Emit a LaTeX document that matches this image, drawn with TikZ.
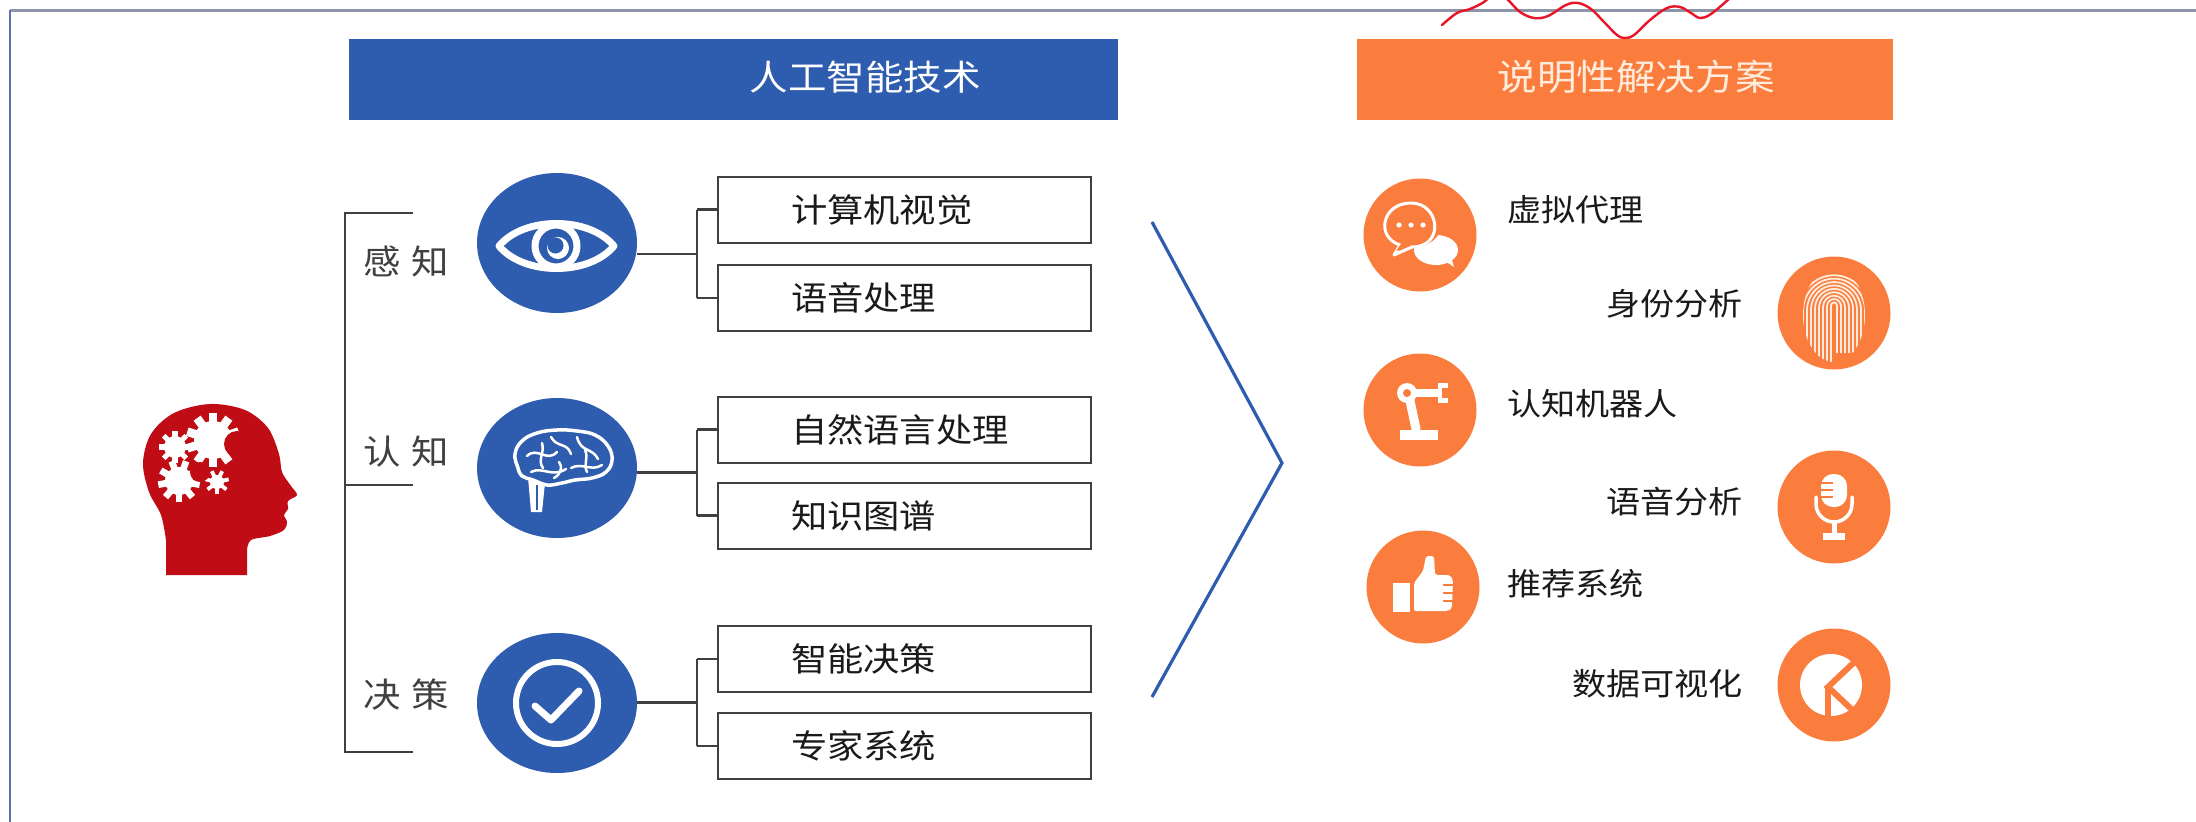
\documentclass[tikz,border=0pt]{standalone}
\usepackage{fontspec}
\newfontfamily\cjk[FakeStretch=1.1]{Noto Sans CJK SC}
\usetikzlibrary{shapes.geometric,calc}
\definecolor{aiblue}{RGB}{46,92,174}
\definecolor{solorange}{RGB}{250,125,62}
\definecolor{headred}{RGB}{192,12,20}
\definecolor{framegrey}{RGB}{140,150,168}
\definecolor{frameblue}{RGB}{90,115,175}
\definecolor{linegrey}{RGB}{64,64,64}
\definecolor{txtdark}{RGB}{26,26,26}
\definecolor{markred}{RGB}{232,20,40}
\definecolor{cream}{RGB}{255,236,220}
\tikzset{
  pics/cog/.style args={#1/#2/#3}{code={
    \fill[white] (0,0) circle[radius=#2];
    \foreach \k in {1,...,#1}{
      \fill[white, rotate=\k*360/#1] (-0.16*#3,0) rectangle (0.16*#3,#3);
    }
  }}
}
\begin{document}
\begin{tikzpicture}[x=1pt,y=-1pt,
  hdrbar/.style={minimum height=81, inner sep=0},
  hdrtext/.style={text=white, font=\cjk\fontsize{35}{42}\selectfont, inner sep=0},
  catlabel/.style={text=linegrey, font=\cjk\fontsize{34}{40}\selectfont, inner sep=0},
  bluedisc/.style={ellipse, fill=aiblue, minimum width=160, minimum height=140, inner sep=0},
  orangedisc/.style={circle, fill=solorange, minimum size=113, inner sep=0},
  tbox/.style={draw=linegrey, line width=2, minimum width=373, minimum height=66,
    text width=227, align=left, inner sep=0, text=txtdark,
    font=\cjk\fontsize{33}{40}\selectfont},
  rtext/.style={text=txtdark, font=\cjk\fontsize{31}{38}\selectfont, inner sep=0},
  bracket/.style={draw=linegrey, line width=2.4},
  chev/.style={draw=aiblue, line width=3.2},
  icon/.style={white, line width=#1, line cap=round, line join=round},
  icon/.default=3
]
\useasboundingbox (0,0) rectangle (2196,822);
\fill[white] (0,0) rectangle (2196,822);

% page frame
\draw[framegrey, line width=3] (10,10) -- (2196,10);
\draw[frameblue, line width=1.4] (10,10) -- (10,822);

% section headers
\node[hdrbar, fill=aiblue, minimum width=769] (hdrL) at (733.5,79.5) {};
\node[hdrtext] (hdrLtxt) at (865,77) {人工智能技术};
\node[hdrbar, fill=solorange, minimum width=536] (hdrR) at (1625,79.5) {};
\node[hdrtext, text=cream, font=\cjk\fontsize{36}{42}\selectfont] (hdrRtxt) at (1636,77) {说明性解决方案};

% head with gears
\fill[headred] (247,575) -- (166,575) -- plot[smooth, tension=0.55] coordinates {
  (166,540) (161,515) (149,492) (143,463) (151,434) (174,413) (210,404) (245,410)
  (268,428) (279,454) (282,472) (291,486) (297,495) (288,501) (288,509) (284,515)
  (287,522) (284,530) (270,536) (251,540) (247,550)} -- cycle;
\pic at (175,447) {cog=8/11/16};
\pic at (179,481) {cog=9/14/21};
\pic at (213,440) {cog=10/19/27};
\pic at (217,482) {cog=7/7/12};
\fill[headred] (237,444) circle[radius=13];
\fill[headred] (200,472) circle[radius=10];

% left bracket with category labels
\coordinate (lbTopC) at (345,213);
\coordinate (lbMidC) at (345,485);
\coordinate (lbBotC) at (345,752);
\coordinate (lbTop) at (413,213);
\coordinate (lbMid) at (413,485);
\coordinate (lbBot) at (413,752);
\draw[bracket] (lbTop) -- (lbTopC) -- (lbBotC) -- (lbBot);
\draw[bracket] (lbMidC) -- (lbMid);
\node[catlabel] (catA) at (406,261) {感\hspace{0.3em}知};
\node[catlabel] (catB) at (406,452) {认\hspace{0.3em}知};
\node[catlabel] (catC) at (406,695) {决\hspace{0.3em}策};

% blue discs
\node[bluedisc] (eye) at (557,243) {};
\node[bluedisc] (brain) at (557,468) {};
\node[bluedisc] (check) at (557,703) {};

% eye icon
\begin{scope}[shift={(eye.center)}]
  \draw[icon=7] (-58,3) .. controls (-33,-27) and (32,-27) .. (57,3)
                        .. controls (32,33) and (-33,33) .. cycle;
  \draw[icon=7] (-1,3) circle[radius=21];
  \fill[white] (1,5) circle[radius=11];
  \fill[aiblue] (-1.5,2.5) circle[radius=8];
\end{scope}

% brain icon
\begin{scope}[shift={(brain.center)}]
  \fill[white] (-29,9) -- (-12,15) -- (-15,44) -- (-26,44) -- cycle;
  \draw[aiblue, line width=1.5] (-20,17) -- (-20,42);
  \draw[icon=3.5] plot[smooth cycle, tension=0.7] coordinates {
    (-39,0) (-42,-14) (-35,-27) (-20,-35) (0,-38) (20,-37) (38,-33) (51,-22)
    (55,-8) (49,4) (35,10) (18,12) (5,15) (-10,17) (-24,12) (-35,8)};
  \draw[icon=2.5] (-30,-12) .. controls (-20,-22) and (-10,-5) .. (0,-16);
  \draw[icon=2.5] (-6,-31) .. controls (0,-20) and (10,-26) .. (14,-14);
  \draw[icon=2.5] (20,-31) .. controls (24,-15) and (35,-21) .. (41,-9);
  \draw[icon=2.5] (-26,4) .. controls (-15,-2) and (-5,10) .. (9,1);
  \draw[icon=2.5] (14,0) .. controls (25,-6) and (34,4) .. (45,-3);
  \draw[icon=2.5] (-15,-25) .. controls (-12,-15) and (-20,-8) .. (-14,0);
  \draw[icon=2.5] (2,-6) .. controls (6,0) and (4,6) .. (-3,10);
  \draw[icon=2.5] (28,-18) .. controls (32,-10) and (26,-4) .. (30,4);
\end{scope}

% check icon
\begin{scope}[shift={(check.center)}]
  \draw[icon=6] (0,0) circle[radius=41];
  \draw[icon=7] (-22,3) -- (-6,17) -- (22,-12);
\end{scope}

% technology boxes
\node[tbox] (b1) at (904.5,209.5) {计算机视觉};
\node[tbox] (b2) at (904.5,298) {语音处理};
\node[tbox] (b3) at (904.5,429.5) {自然语言处理};
\node[tbox] (b4) at (904.5,515.5) {知识图谱};
\node[tbox] (b5) at (904.5,659) {智能决策};
\node[tbox] (b6) at (904.5,746) {专家系统};

% branch connectors from discs to boxes
\foreach \disc/\up/\down in {eye/b1/b2, brain/b3/b4, check/b5/b6}{
  \coordinate (j-\disc) at ($(\up.west)!0.5!(\down.west)+(-20,0)$);
  \draw[bracket] (j-\disc -| \disc.east) -- (j-\disc);
  \draw[bracket] ($(\up.west)+(-20,0)$) -- (\up.west);
  \draw[bracket] ($(\down.west)+(-20,0)$) -- (\down.west);
  \draw[bracket] ($(\up.west)+(-20,0)$) -- ($(\down.west)+(-20,0)$);
}

% chevron between the two halves
\coordinate (cvA) at (1152,222);
\coordinate (cvB) at (1282,463);
\coordinate (cvC) at (1152,697);
\draw[chev] (cvA) -- (cvB) -- (cvC);

% solution discs
\node[orangedisc] (chat) at (1420,235) {};
\node[orangedisc] (finger) at (1834,313) {};
\node[orangedisc] (robot) at (1420,410) {};
\node[orangedisc] (mic) at (1834,507) {};
\node[orangedisc] (thumb) at (1423,587) {};
\node[orangedisc] (chart) at (1834,685) {};

% solution labels
\node[rtext, anchor=west] (sA) at (1507,210) {虚拟代理};
\node[rtext, anchor=east] (sB) at (1743,304) {身份分析};
\node[rtext, anchor=west] (sC) at (1507,404) {认知机器人};
\node[rtext, anchor=east] (sD) at (1743,502) {语音分析};
\node[rtext, anchor=west] (sE) at (1507,584) {推荐系统};
\node[rtext, anchor=east] (sF) at (1743,684) {数据可视化};

% chat bubbles
\begin{scope}[shift={(chat.center)}]
  \fill[white] (16,15) ellipse[x radius=22, y radius=15];
  \fill[white] (22,24) -- (34,32) -- (30,18) -- cycle;
  \fill[solorange] (-9,-10) ellipse[x radius=30, y radius=23];
  \draw[icon=3] (-20,10) -- (-26,20) -- (-8,12);
  \draw[icon=3] (-8,12) .. controls (25,12) and (20,-32) .. (-9,-32)
     .. controls (-38,-32) and (-45,2) .. (-20,10);
  \fill[solorange] (-19,9) -- (-24,16) -- (-10,10) -- cycle;
  \foreach \dx in {-21,-9,3} \fill[white] (\dx,-10) circle[radius=2.6];
\end{scope}

% fingerprint
\begin{scope}[shift={(finger.center)}]
  \clip (0,2) ellipse[x radius=31, y radius=47];
  \foreach \r in {3,7,...,35}{
    \draw[cream, line width=1.8] (-\r,50) -- (-\r,-8+\r*0.2)
      arc[start angle=180, end angle=360, x radius=\r, y radius=\r*1.05] -- (\r,40);
  }
\end{scope}

% robot arm
\begin{scope}[shift={(robot.center)}]
  \fill[white] (-20,20) rectangle (18,30);
  \draw[icon=9] (-4,19) -- (-11,-14);
  \draw[icon=8] (-12,-17) -- (18,-17);
  \fill[white] (-13,-17) circle[radius=10];
  \fill[solorange] (-13,-17) circle[radius=4];
  \fill[white] (18,-27) rectangle (28,-7);
  \fill[solorange] (22,-22) rectangle (29,-12);
\end{scope}

% microphone
\begin{scope}[shift={(mic.center)}]
  \fill[white, rounded corners=12] (-13,-33) rectangle (13,0);
  \foreach \dy in {-24,-17,-10} \draw[solorange, line width=2] (-14,\dy) -- (-1,\dy);
  \draw[icon=3.5] (-18,-10) -- (-18,-3) arc[start angle=180, end angle=0, radius=18] -- (18,-10);
  \draw[white, line width=5] (0,14) -- (0,27);
  \fill[white] (-11,26) rectangle (11,33);
\end{scope}

% thumbs up
\begin{scope}[shift={(thumb.center)}]
  \fill[white] (-30,-4) rectangle (-13,25);
  \fill[white, rounded corners=2] (-9,-4) -- (0,-16) -- (3,-31) -- (11,-31) -- (12,-12)
    -- (27,-12) -- (30,-7) -- (29,21) -- (25,24) -- (-9,24) -- cycle;
  \foreach \dy in {-2,6,14} \draw[solorange, line width=2] (20,\dy) -- (31,\dy);
\end{scope}

% data visualisation mark
\begin{scope}[shift={(chart.center)}]
  \fill[white] (-3,0) circle[radius=31];
  \draw[solorange, line width=6] (32,-34) -- (-6,2) -- (30,36);
  \draw[solorange, line width=6] (-6,2) -- (-6,40);
  \fill[solorange] (-3,34) rectangle (40,40);
\end{scope}

% red hand-drawn mark at the top
\begin{scope}
  \clip (0,0) rectangle (2196,822);
  \draw[markred, line width=2.4, line cap=round] plot[smooth, tension=0.6] coordinates {
    (1442,25) (1457,13) (1470,9) (1484,2) (1496,-8) (1507,-1) (1520,12) (1534,18)
    (1548,16) (1566,5) (1578,3) (1591,9) (1604,22) (1617,35) (1625,38) (1634,35)
    (1650,20) (1667,8) (1680,7) (1691,13) (1700,18) (1711,14) (1730,-2)};
\end{scope}
\end{tikzpicture}
\end{document}
